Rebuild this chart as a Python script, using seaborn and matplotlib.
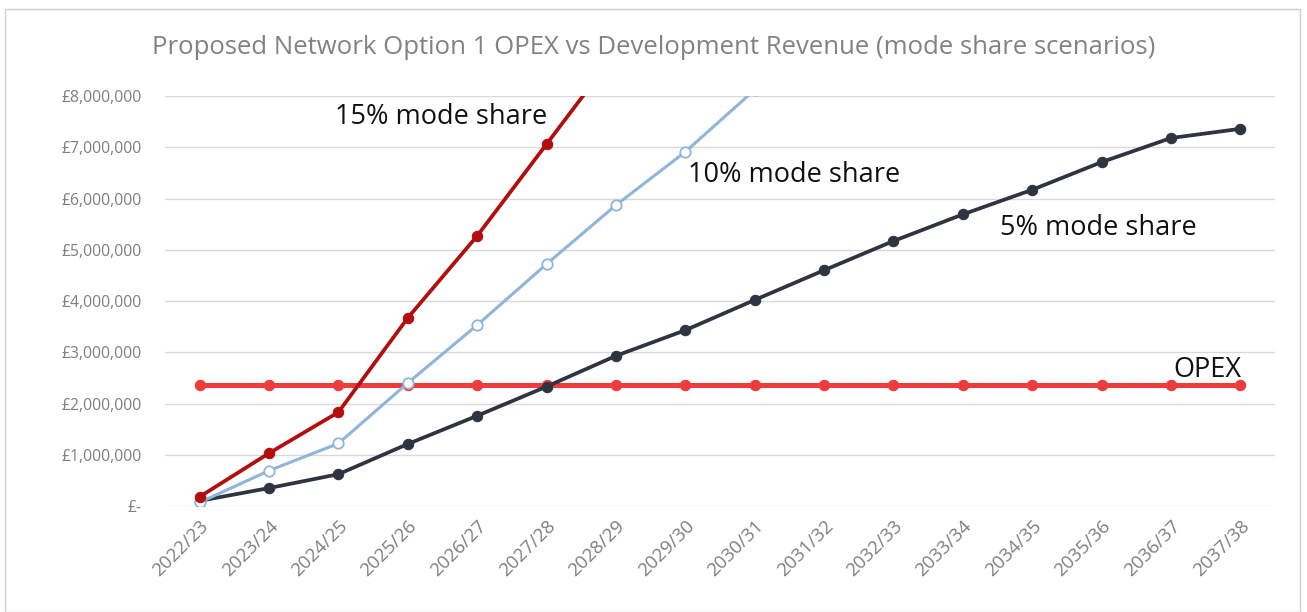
import pandas as pd
import seaborn as sns
import matplotlib.pyplot as plt
from matplotlib.patches import Rectangle
from matplotlib.ticker import FuncFormatter

years = ['2022/23', '2023/24', '2024/25', '2025/26', '2026/27', '2027/28', '2028/29', '2029/30',
         '2030/31', '2031/32', '2032/33', '2033/34', '2034/35', '2035/36', '2036/37', '2037/38']

opex = [2360000] * 16
share_5 = [100000, 350000, 620000, 1210000, 1760000, 2330000, 2930000, 3430000,
           4020000, 4600000, 5170000, 5690000, 6170000, 6710000, 7180000, 7360000]
share_10 = [70000, 690000, 1220000, 2400000, 3530000, 4720000, 5870000, 6910000, 8120000]
share_15 = [180000, 1030000, 1830000, 3670000, 5270000, 7060000, 8850000]

sns.set_style('white')
plt.rcParams['font.family'] = ['Open Sans', 'DejaVu Sans']

fig = plt.figure(figsize=(13.07, 6.12), dpi=100)
ax = fig.add_axes([0.1262, 0.1732, 0.8493, 0.6699])

def frame(vals):
    return pd.DataFrame({'x': range(len(vals)), 'y': vals})

sns.lineplot(data=frame(opex), x='x', y='y', ax=ax, color='#EE3B3B', lw=3.6,
             marker='o', markersize=7.5, markeredgecolor='#EE3B3B')
sns.lineplot(data=frame(share_5), x='x', y='y', ax=ax, color='#2E3540', lw=2.7,
             marker='o', markersize=7.5, markeredgecolor='#2E3540')
sns.lineplot(data=frame(share_10), x='x', y='y', ax=ax, color='#8FB5DA', lw=2.2,
             marker='o', markersize=7.5, markerfacecolor='white', markeredgecolor='#8FB5DA',
             markeredgewidth=1.3)
sns.lineplot(data=frame(share_15), x='x', y='y', ax=ax, color='#B40D0D', lw=2.7,
             marker='o', markersize=7.5, markeredgecolor='#B40D0D')

ax.set_xlim(-0.5, 15.5)
ax.set_ylim(0, 8000000)
ax.set_xticks(range(len(years)))
ax.set_xticklabels(years, rotation=45, ha='right', rotation_mode='anchor')
ax.set_yticks(range(0, 8000001, 1000000))
ax.yaxis.set_major_formatter(FuncFormatter(lambda v, p: '£-' if v == 0 else f'£{v:,.0f}'))
ax.tick_params(axis='both', colors='#7F7F7F', length=0)
ax.tick_params(axis='y', pad=17, labelsize=11.3)
ax.tick_params(axis='x', pad=8, labelsize=13.5)
ax.set_xlabel('')
ax.set_ylabel('')
ax.grid(axis='y', color='#D9D9D9', lw=1)
for s in ax.spines.values():
    s.set_visible(False)

fig.text(0.5, 1 - 48 / 612,
         'Proposed Network Option 1 OPEX vs Development Revenue (mode share scenarios)',
         color='#828282', fontsize=18.5, ha='center', va='center')

ax.text(1.95, 7590000, '15% mode share', fontsize=19.5, va='center', color='#111111')
ax.text(7.04, 6460000, '10% mode share', fontsize=19.5, va='center', color='#111111')
ax.text(11.54, 5420000, '5% mode share', fontsize=19.5, va='center', color='#111111')
ax.text(14.03, 2650000, 'OPEX', fontsize=19.5, va='center', color='#111111')

fig.patches.append(Rectangle((0.004, 0.0), 0.991, 0.985, transform=fig.transFigure,
                             fill=False, edgecolor='#D0D0D0', lw=1))

fig.savefig('out.png', dpi=100)
